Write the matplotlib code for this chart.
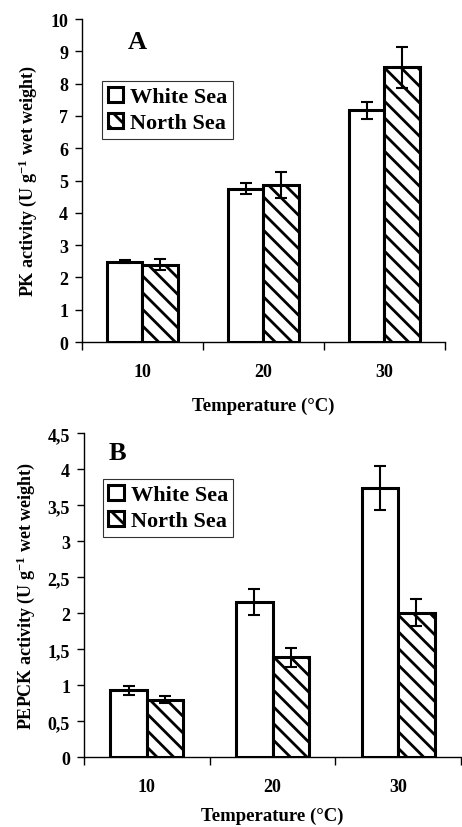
import numpy as np
import matplotlib
matplotlib.use("Agg")
import matplotlib.pyplot as plt
from matplotlib.ticker import FuncFormatter

plt.rcParams['font.family'] = ['Liberation Serif', 'DejaVu Serif']
plt.rcParams['font.weight'] = 'bold'
plt.rcParams['mathtext.fontset'] = 'custom'
plt.rcParams['mathtext.rm'] = 'Liberation Serif:bold'
plt.rcParams['mathtext.bf'] = 'Liberation Serif:bold'
plt.rcParams['mathtext.default'] = 'bf'
plt.rcParams['hatch.linewidth'] = 2.0

temps = ["10", "20", "30"]
series = ["White Sea", "North Sea"]

# PK activity (panel A)
pk_white = [2.49, 4.74, 7.18]
pk_white_err = [0.05, 0.17, 0.26]
pk_north = [2.39, 4.87, 8.50]
pk_north_err = [0.17, 0.40, 0.64]

# PEPCK activity (panel B)
pepck_white = [0.93, 2.16, 3.74]
pepck_white_err = [0.06, 0.18, 0.31]
pepck_north = [0.80, 1.39, 2.01]
pepck_north_err = [0.045, 0.13, 0.19]

fig = plt.figure(figsize=(4.62, 8.28), dpi=100)
axA = fig.add_axes([0.1775, 0.5857, 0.7855, 0.3901])
axB = fig.add_axes([0.1818, 0.0842, 0.8162, 0.3913])

width = 0.29


def draw_panel(ax, white, white_err, north, north_err, ymax, ystep, ylabel,
               letter, letter_xy, leg_xy, comma, xlabelpad):
    x = np.arange(len(temps))
    ax.bar(x - width / 2, white, width, color='white', edgecolor='black', linewidth=2.2,
           label=series[0], zorder=2)
    ax.bar(x + width / 2, north, width, color='white', edgecolor='black', linewidth=2.2,
           hatch='\\\\', label=series[1], zorder=2)
    ax.errorbar(x - width / 2, white, yerr=white_err, fmt='none', ecolor='black',
                elinewidth=1.5, capsize=4, capthick=1.5, zorder=3)
    ax.errorbar(x + width / 2, north, yerr=north_err, fmt='none', ecolor='black',
                elinewidth=1.5, capsize=4, capthick=1.5, zorder=3)

    ax.set_xlim(-0.5, len(temps) - 0.5)
    ax.set_ylim(0, ymax)
    ax.set_yticks(np.arange(0, ymax + ystep / 2, ystep))
    if comma:
        ax.yaxis.set_major_formatter(FuncFormatter(lambda v, p: ('%g' % v).replace('.', ',')))
    ax.tick_params(axis='y', direction='out', length=5, width=1, labelsize=13, pad=5)

    # boundary ticks between temperatures, labels centred under each group
    ax.set_xticks(np.arange(-0.5, len(temps), 1.0))
    ax.set_xticklabels([])
    ax.set_xticks(x, minor=True)
    ax.set_xticklabels(temps, minor=True)
    ax.tick_params(axis='x', which='major', direction='out', length=6, width=1)
    ax.tick_params(axis='x', which='minor', length=0, labelsize=13, pad=15)

    for s in ['top', 'right']:
        ax.spines[s].set_visible(False)
    for s in ['left', 'bottom']:
        ax.spines[s].set_linewidth(1.0)

    ax.set_xlabel("Temperature (°C)", fontsize=13.5, fontweight='bold', labelpad=xlabelpad)
    ax.set_ylabel(ylabel, fontsize=13, fontweight='bold', labelpad=8)
    ax.text(letter_xy[0], letter_xy[1], letter, transform=ax.transAxes, fontsize=19,
            fontweight='bold', ha='center', va='center')

    leg = ax.legend(loc='upper left', bbox_to_anchor=leg_xy, fontsize=16,
                    handlelength=0.7, handleheight=0.7, handletextpad=0.3,
                    labelspacing=0.25, borderpad=0.25, frameon=True, fancybox=False,
                    borderaxespad=0)
    leg.get_frame().set_edgecolor('black')
    leg.get_frame().set_linewidth(0.8)
    for t in leg.get_texts():
        t.set_fontweight('bold')
    return ax


draw_panel(axA, pk_white, pk_white_err, pk_north, pk_north_err, 10, 1,
           "PK activity (U g$^{-1}$ wet weight)", "A", (0.152, 0.929), (0.055, 0.808),
           False, 12)
draw_panel(axB, pepck_white, pepck_white_err, pepck_north, pepck_north_err, 4.5, 0.5,
           "PEPCK activity (U g$^{-1}$ wet weight)", "B", (0.09, 0.942), (0.05, 0.859),
           True, 8)

fig.savefig("out.png", dpi=100)
